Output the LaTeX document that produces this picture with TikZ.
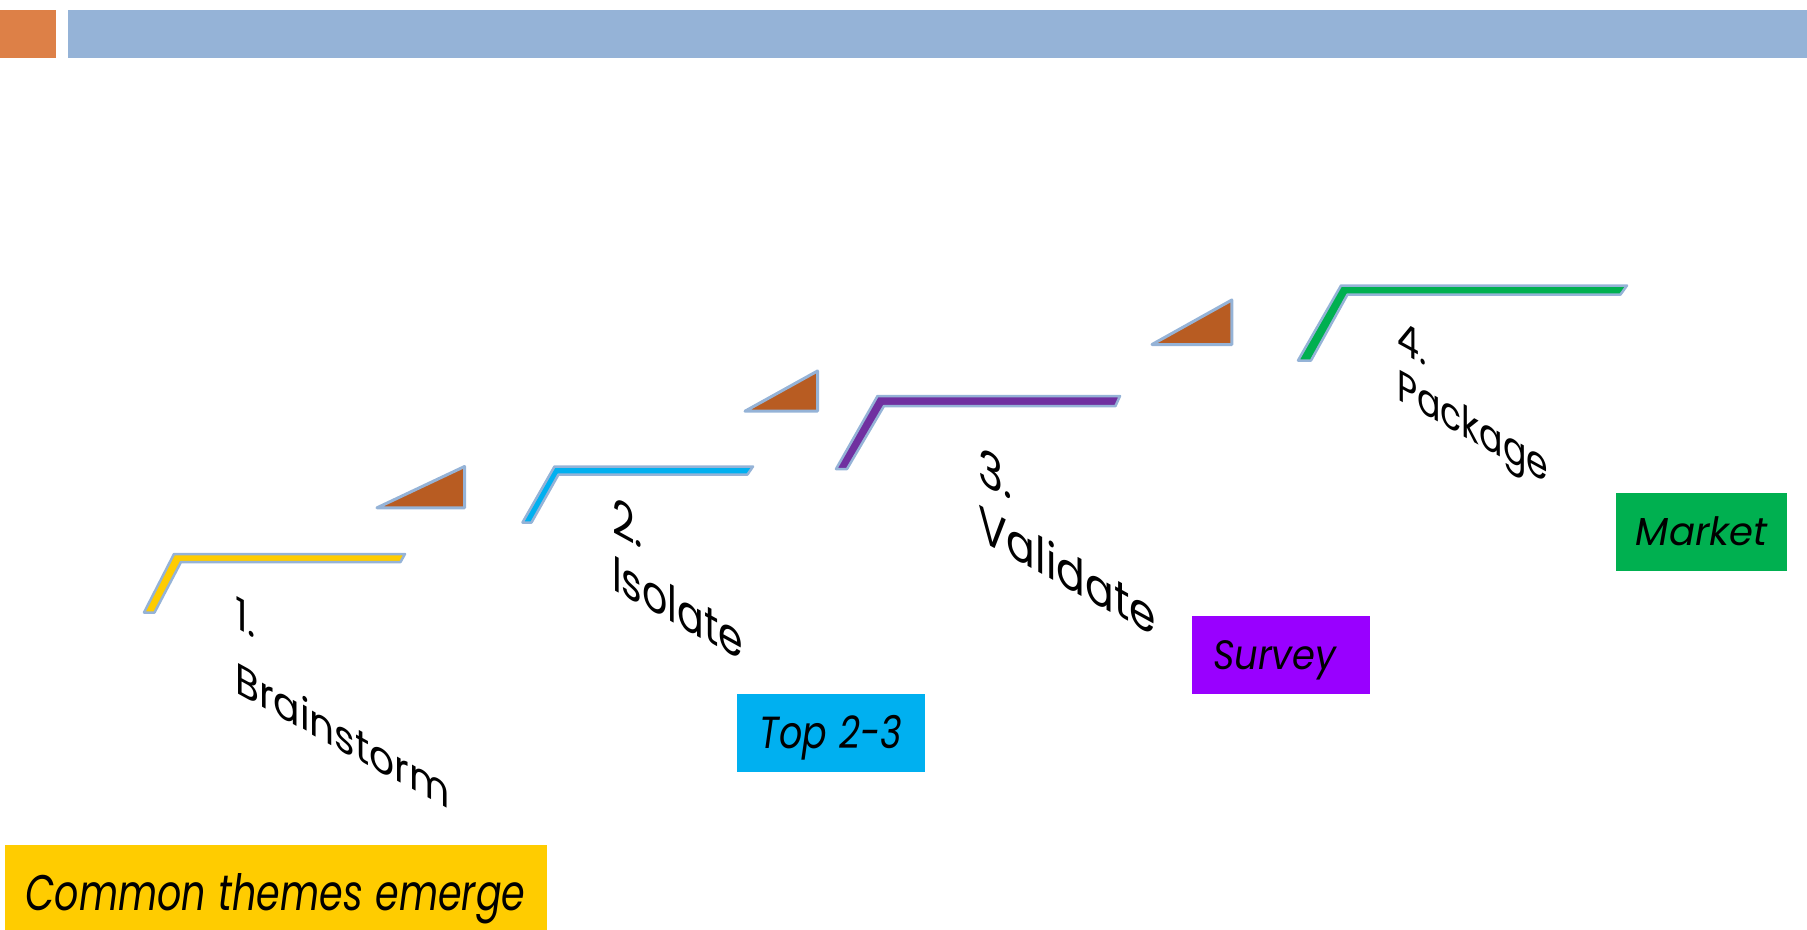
\documentclass[tikz,border=0pt]{standalone}
\usepackage{fontspec}
\setmainfont{Poppins}
\definecolor{barorange}{RGB}{221,128,71}
\definecolor{barblue}{RGB}{149,179,215}
\definecolor{tribrown}{RGB}{184,92,34}
\definecolor{edgeblue}{RGB}{149,179,215}
\definecolor{styellow}{RGB}{255,204,0}
\definecolor{stcyan}{RGB}{0,176,240}
\definecolor{stpurple}{RGB}{112,48,160}
\definecolor{stgreen}{RGB}{0,176,80}
\definecolor{bxpurple}{RGB}{153,0,255}
\newcommand{\hsq}[2]{\scalebox{#1}[1]{#2}}
\tikzset{
  stepshape/.style={draw=edgeblue, line width=2.5pt, line join=round},
  tri/.style={draw=edgeblue, line width=3pt, line join=round, fill=tribrown},
  lab/.style={inner sep=0pt, align=left, anchor=north west, yslant=-0.55, transform shape},
  box/.style={inner ysep=0pt, text depth=0pt, align=left}
}
\begin{document}
\begin{tikzpicture}[x=1pt,y=-1pt]
\useasboundingbox (0,0) rectangle (1807,929);
% header
\fill[barorange] (0,10) rectangle (56,58);
\fill[barblue] (68,10) rectangle (1807,58);
% steps
\draw[stepshape, fill=styellow] (144,612.5) -- (174,554) -- (405,554) -- (400.5,562) -- (181,562) -- (154.5,612.5) -- cycle;
\draw[stepshape, fill=stcyan] (522.5,522.5) -- (554.5,466.5) -- (753,466.5) -- (747.5,474.5) -- (558.5,474.5) -- (531.5,522.5) -- cycle;
\draw[stepshape, fill=stpurple] (836,469) -- (877.5,396) -- (1120,396) -- (1115.5,406) -- (884,406) -- (847,469) -- cycle;
\draw[stepshape, fill=stgreen] (1298,360.5) -- (1341,285.5) -- (1627,285.5) -- (1620.5,294.5) -- (1347.5,294.5) -- (1311,360.5) -- cycle;
% triangles
\draw[tri] (377,507.8) -- (464.5,466.5) -- (464.5,507.8) -- cycle;
\draw[tri] (745,411.2) -- (817.5,371) -- (817.5,411.2) -- cycle;
\draw[tri] (1152,344.5) -- (1231.8,300) -- (1231.8,344.5) -- cycle;
% labels
\node[lab, font=\fontsize{44}{65}\selectfont] (l1) at (235,595) {\hsq{0.89}{1.}\\\hsq{0.89}{Brainstorm}};
\node[lab, font=\fontsize{50}{57}\selectfont] (l2) at (612,495) {\hsq{0.79}{2.}\\\hsq{0.79}{Isolate}};
\node[lab, font=\fontsize{50}{57}\selectfont] (l3) at (978,445) {\hsq{0.85}{3.}\\\hsq{0.85}{Validate}};
\node[lab, font=\fontsize{44}{49}\selectfont] (l4) at (1397,319) {\hsq{0.79}{4.}\\\hsq{0.79}{Package}};
% boxes
\node[box, fill=styellow, font=\itshape\fontsize{50}{56}\selectfont, inner xsep=20pt, text width=501.5pt, minimum height=95pt, text height=36pt] (b1) at (276.2,892.5) {\hsq{0.76}{Common themes emerge}};
\node[box, fill=stcyan, font=\itshape\fontsize{45}{50}\selectfont, inner xsep=23pt, text width=142.3pt, minimum height=77.7pt, text height=32pt] (b2) at (830.9,732.9) {\hsq{0.81}{Top 2-3}};
\node[box, fill=bxpurple, font=\itshape\fontsize{41}{50}\selectfont, inner xsep=21pt, text width=136pt, minimum height=78pt, text height=29pt] (b3) at (1281,655) {\hsq{0.9}{Survey}};
\node[box, fill=stgreen, font=\itshape\fontsize{39}{50}\selectfont, inner xsep=20pt, text width=130.7pt, minimum height=78pt, text height=27pt] (b4) at (1701.3,531.7) {\hsq{0.99}{Market}};
\end{tikzpicture}
\end{document}
